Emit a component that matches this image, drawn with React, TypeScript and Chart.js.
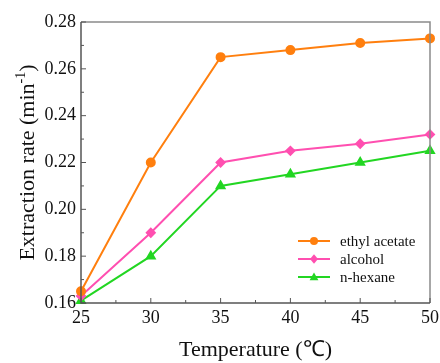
import React, { useEffect, useRef } from "react";
import { Chart, registerables } from "chart.js";

Chart.register(...registerables);

const temperatures = [25, 30, 35, 40, 45, 50];
const ethylAcetate = [0.165, 0.22, 0.265, 0.268, 0.271, 0.273];
const alcohol = [0.163, 0.19, 0.22, 0.225, 0.228, 0.232];
const nHexane = [0.161, 0.18, 0.21, 0.215, 0.22, 0.225];
const seriesNames = ["ethyl acetate", "alcohol", "n-hexane"];
const xTicks = [25, 30, 35, 40, 45, 50];
const yTicks = [0.16, 0.18, 0.2, 0.22, 0.24, 0.26, 0.28];

const FONT = "'Liberation Serif', 'Times New Roman', serif";
const colors = ["#FF7F0E", "#FF4FB0", "#22D622"];
const shapes = ["circle", "rectRot", "triangle"];

function drawPoint(ctx: CanvasRenderingContext2D, style: string, r: number, x: number, y: number) {
  ctx.beginPath();
  if (style === "circle") {
    ctx.arc(x, y, r, 0, Math.PI * 2);
  } else if (style === "rectRot") {
    ctx.moveTo(x, y - r * 1.2);
    ctx.lineTo(x + r, y);
    ctx.lineTo(x, y + r * 1.2);
    ctx.lineTo(x - r, y);
    ctx.closePath();
  } else {
    ctx.moveTo(x, y - r * 1.1);
    ctx.lineTo(x + r * 1.1, y + r * 0.8);
    ctx.lineTo(x - r * 1.1, y + r * 0.8);
    ctx.closePath();
  }
  ctx.fill();
}

const decor = {
  id: "decor",
  afterDraw(chart: any) {
    const { ctx, chartArea: a, scales } = chart;
    const xs = scales.x;
    const ys = scales.y;
    ctx.save();
    // frame
    ctx.lineWidth = 1.5;
    ctx.strokeStyle = "#8a8a8a";
    ctx.beginPath();
    ctx.moveTo(a.left, a.top);
    ctx.lineTo(a.right, a.top);
    ctx.lineTo(a.right, a.bottom);
    ctx.stroke();
    ctx.strokeStyle = "#555";
    ctx.beginPath();
    ctx.moveTo(a.left, a.top);
    ctx.lineTo(a.left, a.bottom);
    ctx.lineTo(a.right, a.bottom);
    ctx.stroke();
    // ticks
    ctx.lineWidth = 1;
    ctx.strokeStyle = "#555";
    ctx.beginPath();
    for (let i = 0; i < xTicks.length; i++) {
      const px = xs.getPixelForValue(xTicks[i]);
      ctx.moveTo(px, a.bottom);
      ctx.lineTo(px, a.bottom - 5);
      if (i < xTicks.length - 1) {
        const mx = xs.getPixelForValue((xTicks[i] + xTicks[i + 1]) / 2);
        ctx.moveTo(mx, a.bottom);
        ctx.lineTo(mx, a.bottom - 3);
      }
    }
    for (let i = 0; i < yTicks.length; i++) {
      const py = ys.getPixelForValue(yTicks[i]);
      ctx.moveTo(a.left, py);
      ctx.lineTo(a.left + 5, py);
      if (i < yTicks.length - 1) {
        const my = ys.getPixelForValue((yTicks[i] + yTicks[i + 1]) / 2);
        ctx.moveTo(a.left, my);
        ctx.lineTo(a.left + 3, my);
      }
    }
    ctx.stroke();

    // x tick labels
    ctx.fillStyle = "#111";
    ctx.font = `18px ${FONT}`;
    ctx.textAlign = "center";
    ctx.textBaseline = "top";
    xTicks.forEach((v) => {
      ctx.fillText(String(v), xs.getPixelForValue(v), a.bottom + 6);
    });

    // titles
    ctx.font = `22px ${FONT}`;
    ctx.textAlign = "center";
    ctx.textBaseline = "middle";
    ctx.fillText("Temperature (\u2103)", (a.left + a.right) / 2, 350);
    ctx.save();
    ctx.translate(28, (a.top + a.bottom) / 2);
    ctx.rotate(-Math.PI / 2);
    const main = "Extraction rate (min";
    const sup = "-1";
    const end = ")";
    ctx.font = `22px ${FONT}`;
    const w1 = ctx.measureText(main).width;
    const w3 = ctx.measureText(end).width;
    ctx.font = `14px ${FONT}`;
    const w2 = ctx.measureText(sup).width;
    const total = w1 + w2 + w3;
    const x0 = -total / 2;
    ctx.textAlign = "left";
    ctx.font = `22px ${FONT}`;
    ctx.fillText(main, x0, 0);
    ctx.font = `14px ${FONT}`;
    ctx.fillText(sup, x0 + w1, -7);
    ctx.font = `22px ${FONT}`;
    ctx.fillText(end, x0 + w1 + w2, 0);
    ctx.restore();

    // legend
    const lx = 298;
    const ly = [241, 259, 277];
    ctx.font = `15px ${FONT}`;
    ctx.textAlign = "left";
    ctx.textBaseline = "middle";
    chart.data.datasets.forEach((ds: any, i: number) => {
      ctx.strokeStyle = ds.borderColor;
      ctx.lineWidth = 2;
      ctx.beginPath();
      ctx.moveTo(lx, ly[i]);
      ctx.lineTo(lx + 32, ly[i]);
      ctx.stroke();
      ctx.fillStyle = ds.backgroundColor;
      drawPoint(ctx, ds.pointStyle, 4, lx + 16, ly[i]);
      ctx.fillStyle = "#111";
      ctx.fillText(ds.label, lx + 42, ly[i] + 1);
    });
    ctx.restore();
  },
};

export default function App() {
  const ref = useRef<HTMLCanvasElement>(null);
  useEffect(() => {
    document.body.style.margin = "0";
    const values = [ethylAcetate, alcohol, nHexane];
    const chart = new Chart(ref.current as HTMLCanvasElement, {
      type: "line",
      data: {
        datasets: values.map((v, i) => ({
          label: seriesNames[i],
          data: temperatures.map((t, j) => ({ x: t, y: v[j] })),
          borderColor: colors[i],
          backgroundColor: colors[i],
          pointBackgroundColor: colors[i],
          pointBorderColor: colors[i],
          pointStyle: shapes[i],
          pointRadius: i === 2 ? 4.5 : 4,
          borderWidth: 2,
          tension: 0,
          clip: false,
        })),
      },
      options: {
        animation: false,
        responsive: false,
        layout: { padding: { top: 22, right: 10, left: 0, bottom: 0 } },
        plugins: { legend: { display: false }, tooltip: { enabled: false } },
        scales: {
          x: {
            type: "linear",
            min: 25,
            max: 50,
            afterBuildTicks: (s: any) => {
              s.ticks = xTicks.map((v) => ({ value: v }));
            },
            afterFit: (s: any) => {
              s.height = 60;
            },
            grid: { display: false, drawTicks: false },
            border: { display: false },
            ticks: { display: false },
          },
          y: {
            min: 0.16,
            max: 0.28,
            afterBuildTicks: (s: any) => {
              s.ticks = yTicks.map((v) => ({ value: v }));
            },
            afterFit: (s: any) => {
              s.width = 81;
            },
            grid: { display: false, drawTicks: false },
            border: { display: false },
            ticks: {
              color: "#111",
              font: { family: FONT, size: 18 },
              padding: 5,
              callback: (v: any) => Number(v).toFixed(2),
            },
          },
        },
      },
      plugins: [decor],
    } as any);
    return () => chart.destroy();
  }, []);
  return <canvas ref={ref} width={440} height={363} style={{ display: "block" }} />;
}
